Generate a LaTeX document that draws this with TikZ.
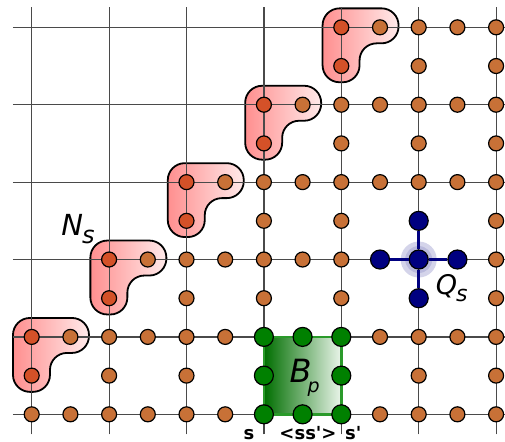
\documentclass[tikz,border=0pt]{standalone}
\usepackage{fontspec}
\setmainfont{DejaVu Sans}
\definecolor{dotor}{HTML}{C87137}
\definecolor{dotred}{HTML}{D45128}
\definecolor{navyb}{HTML}{000080}
\definecolor{gdot}{HTML}{008000}
\definecolor{gridc}{HTML}{4A4A4A}
\definecolor{lpink}{HTML}{FF8F8F}
\definecolor{lwhite}{HTML}{FFEAEA}
\definecolor{gdark}{HTML}{006E00}
\definecolor{glight}{HTML}{EAF5EA}
\definecolor{gborder}{HTML}{2A9A2A}
\tikzset{
  dotbase/.style={circle, draw=black, line width=1.2pt, inner sep=0pt},
  odot/.style={dotbase, fill=dotor, minimum size=15pt},
  rdot/.style={dotbase, fill=dotred, minimum size=15pt},
  gnode/.style={dotbase, fill=gdot, minimum size=19pt},
  ndot/.style={dotbase, fill=navyb, minimum size=19pt},
  lshape/.style={draw=black, line width=1.8pt, rounded corners=17pt, left color=lpink, right color=lwhite},
  gridline/.style={draw=gridc, line width=1.2pt},
  navyline/.style={draw=navyb, line width=3pt},
  lblit/.style={inner sep=0pt, anchor=base west},
  lblbf/.style={inner sep=0pt, anchor=base, font=\fontsize{18}{18}\selectfont\bfseries}
}
\begin{document}
\begin{tikzpicture}[x=77.4pt, y=77.4pt]
\useasboundingbox (-0.4096,-0.345) rectangle (6.115,5.353);
\clip (-0.4096,-0.345) rectangle (6.115,5.353);
% N_s plaquette shapes
\foreach \c in {0,...,4}{
  \path[lshape] (\c-0.242,\c+1.245) -- (\c+0.74,\c+1.245) -- (\c+0.74,\c+0.793)
     -- (\c+0.236,\c+0.793) -- (\c+0.236,\c+0.29) -- (\c-0.242,\c+0.29) -- cycle;
}
% grid
\foreach \r in {0,...,5} \draw[gridline] (-0.242,\r) -- (6.4,\r);
\foreach \c in {0,...,6} \draw[gridline] (\c,-0.26) -- (\c,5.262);
% B_p square
\coordinate (gsw) at (3,0);
\coordinate (gne) at (4,1);
\path[left color=gdark, right color=glight, draw=gborder, line width=2.5pt] (gsw) rectangle (gne);
% Q_s halo
\coordinate (qc) at (5,2);
\fill[navyb, opacity=0.17] (qc) circle (18pt);
\fill[navyb, opacity=0.12] (qc) circle (13.5pt);
% orange dots
\foreach \X in {0,...,12}{
  \foreach \Y in {0,...,10}{
    \pgfmathtruncatemacro{\ok}{(\Y<=\X+2) && !(isodd(\X) && isodd(\Y))
       && !(\X>=6 && \X<=8 && \Y<=2)
       && !(\X==10 && \Y>=3 && \Y<=5)
       && !(\Y==4 && \X>=9 && \X<=11)
       && !(iseven(\X) && (\Y==\X+2 || \Y==\X+1))}
    \ifnum\ok=1 \node[odot] (o-\X-\Y) at (\X/2,\Y/2) {};\fi
  }
}
% red dots of N_s
\foreach \c in {0,...,4}{
  \node[rdot] (r\c a) at (\c,\c+1) {};
  \node[rdot] (r\c b) at (\c,\c+0.5) {};
}
% green dots
\foreach \X/\Y in {6/0,7/0,8/0,6/1,8/1,6/2,7/2,8/2}{
  \node[gnode] (g-\X-\Y) at (\X/2,\Y/2) {};
}
% Q_s star
\node[ndot] (q) at (qc) {};
\node[ndot] (qw) at (4.5,2) {};
\node[ndot] (qe) at (5.5,2) {};
\node[ndot] (qn) at (5,2.5) {};
\node[ndot] (qs) at (5,1.5) {};
\foreach \n in {qw,qe,qn,qs} \draw[navyline] (q) -- (\n);
% labels
\node[lblit, font=\fontsize{29}{29}\selectfont\itshape] (ns) at (0.38,2.304)
  {N\kern-1pt\raisebox{-8pt}{\fontsize{24}{24}\selectfont s}};
\node[lblit, font=\fontsize{27}{27}\selectfont\itshape] (qsl) at (5.22,1.55)
  {Q\kern-1pt\raisebox{-7pt}{\fontsize{22}{22}\selectfont s}};
\node[lblit, font=\fontsize{32}{32}\selectfont\itshape] (bp) at (3.33,0.408)
  {B\kern-4pt\raisebox{-10pt}{\fontsize{19}{19}\selectfont p}};
\node[lblbf] (ls) at (2.807,-0.33) {s};
\node[lblbf] (lss) at (3.57,-0.33) {<ss\textquotesingle>};
\node[lblbf] (ls2) at (4.155,-0.33) {s\textquotesingle};
\end{tikzpicture}
\end{document}
